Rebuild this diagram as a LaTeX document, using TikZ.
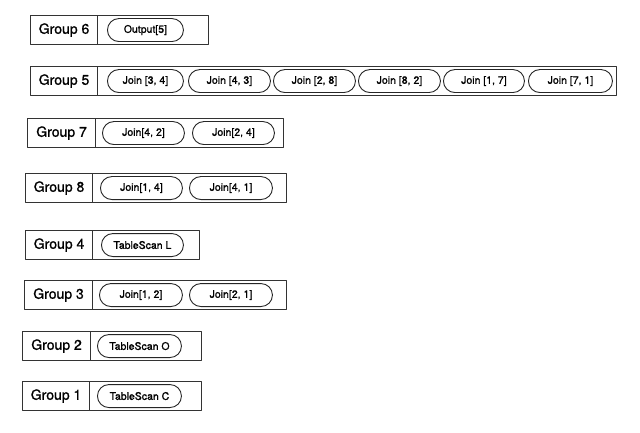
\documentclass[tikz,border=0pt]{standalone}
\usepackage{fontspec}
\setmainfont{TeX Gyre Heros}[RawFeature={embolden=1.2}]
\usetikzlibrary{shapes.misc}
\begin{document}
\begin{tikzpicture}[x=1pt,y=-1pt,line join=round,
	cell/.style={draw=black!80,line width=1.1pt,anchor=north west,minimum height=29pt,inner sep=0pt,font=\fontsize{14}{16}\selectfont},
	pill/.style={draw=black!85,line width=0.9pt,rounded rectangle,anchor=west,minimum height=23pt,inner sep=0pt,font=\fontsize{10.5}{12}\selectfont}]
	\useasboundingbox (0,0) rectangle (640,433);
	% group rows: name/left/top/divider/right
	\foreach \n/\l/\t/\d/\r in{6/30/15/97/208,5/30/66/97/616,7/27/118/95/283,8/25/173/92/286,4/25/230/92/199,3/24/280/92/286,2/22/331/90/201,1/22/381/89/201}
		{\node[cell,minimum width={\d-\l}] (lab\n) at (\l,\t) {Group \n};
		\node[cell,minimum width={\r-\d}] (body\n) at (\d,\t) {};}
	% operators in each group
	\foreach \n/\x/\w/\s [count=\i] in{6/107/76/{Output[5]},
		5/107/76/{Join [3, 4]},5/188/82/{Join [4, 3]},5/273/82/{Join [2, 8]},5/358/82/{Join [8, 2]},5/443/81/{Join [1, 7]},5/528/84/{Join [7, 1]},
		7/102/82/{Join[4, 2]},7/192/82/{Join[2, 4]},
		8/100/82/{Join[1, 4]},8/189/83/{Join[4, 1]},
		4/101/82/{TableScan L},
		3/99/83/{Join[1, 2]},3/189/83/{Join[2, 1]},
		2/97/84/{TableScan O},
		1/97/84/{TableScan C}}
		\node[pill,minimum width=\w] (op\i) at (\x,0 |- body\n.center) {\s};
\end{tikzpicture}
\end{document}
